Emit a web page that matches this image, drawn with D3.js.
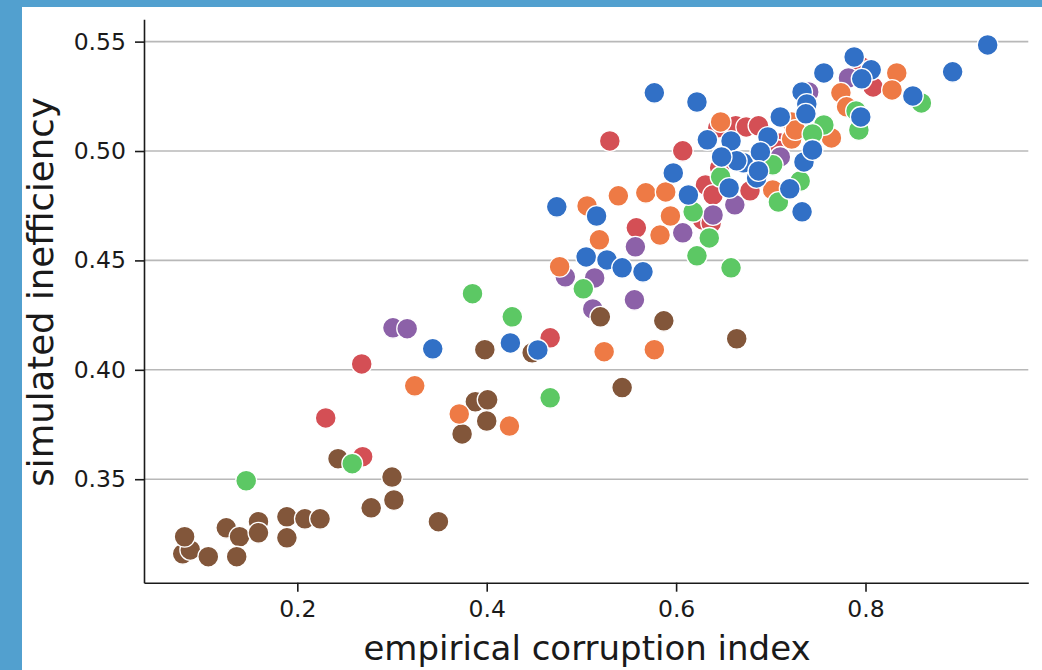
<!DOCTYPE html>
<html>
<head>
<meta charset="utf-8">
<script src="https://cdn.jsdelivr.net/npm/d3@7"></script>
<style>
  html, body { margin: 0; padding: 0; background: #52a0cf; }
  svg { display: block; }
  text { font-family: "DejaVu Sans", sans-serif; fill: #1a1a1a; }
</style>
</head>
<body>
<svg id="chart" width="1042" height="670"></svg>
<script>
// ---- data ----
const xTicks = [0.2, 0.4, 0.6, 0.8];
const yTicks = [0.35, 0.40, 0.45, 0.50, 0.55];
const xLabel = "empirical corruption index";
const yLabel = "simulated inefficiency";

const redX = [0.530,0.607,0.644,0.663,0.674,0.687,0.710,0.707,0.631,0.639,0.628,0.637,0.558,0.678,0.796,0.808,0.467,0.268,0.230,0.269,0.646];
const redY = [0.5046,0.5001,0.5106,0.5115,0.5110,0.5115,0.5037,0.5005,0.4845,0.4799,0.4685,0.4671,0.4649,0.4818,0.5384,0.5293,0.4146,0.4027,0.3780,0.3603,0.4923];

const purpleX = [0.782,0.740,0.710,0.662,0.639,0.607,0.557,0.483,0.514,0.556,0.512,0.301,0.316];
const purpleY = [0.5334,0.5270,0.4973,0.4754,0.4708,0.4626,0.4562,0.4425,0.4420,0.4320,0.4278,0.4192,0.4188];

const brownX = [0.079,0.087,0.081,0.106,0.125,0.139,0.136,0.159,0.159,0.189,0.189,0.208,0.224,0.243,0.278,0.300,0.302,0.349,0.374,0.388,0.401,0.400,0.398,0.448,0.520,0.587,0.664,0.543];
const brownY = [0.3159,0.3177,0.3237,0.3146,0.3278,0.3237,0.3146,0.3306,0.3255,0.3328,0.3232,0.3319,0.3319,0.3594,0.3369,0.3510,0.3405,0.3306,0.3707,0.3854,0.3863,0.3766,0.4092,0.4078,0.4242,0.4224,0.4142,0.3919];

const orangeX = [0.833,0.828,0.774,0.780,0.764,0.722,0.722,0.702,0.506,0.539,0.568,0.589,0.594,0.583,0.519,0.477,0.524,0.577,0.324,0.371,0.424,0.647,0.726];
const orangeY = [0.5357,0.5279,0.5266,0.5202,0.5060,0.5133,0.5055,0.4822,0.4749,0.4795,0.4809,0.4813,0.4703,0.4616,0.4594,0.4471,0.4083,0.4092,0.3927,0.3798,0.3743,0.5133,0.5096];

const greenX = [0.859,0.790,0.793,0.756,0.744,0.731,0.708,0.702,0.647,0.618,0.635,0.622,0.658,0.502,0.385,0.427,0.467,0.258,0.146];
const greenY = [0.5220,0.5183,0.5096,0.5119,0.5078,0.4863,0.4767,0.4937,0.4882,0.4722,0.4603,0.4521,0.4466,0.4370,0.4348,0.4242,0.3872,0.3571,0.3493];

const blueX = [0.929,0.892,0.850,0.788,0.806,0.796,0.756,0.733,0.738,0.737,0.710,0.795,0.697,0.658,0.633,0.671,0.685,0.689,0.735,0.720,0.733,0.656,0.664,0.648,0.597,0.613,0.577,0.622,0.474,0.516,0.505,0.527,0.543,0.565,0.343,0.425,0.454,0.744,0.687];
const blueY = [0.5485,0.5362,0.5252,0.5430,0.5371,0.5330,0.5357,0.5270,0.5215,0.5170,0.5156,0.5156,0.5064,0.5046,0.5051,0.4946,0.4877,0.4996,0.4950,0.4827,0.4722,0.4831,0.4955,0.4973,0.4900,0.4799,0.5266,0.5224,0.4745,0.4703,0.4516,0.4502,0.4466,0.4448,0.4096,0.4123,0.4091,0.5005,0.4909];

const seriesNames = ["red","purple","brown","orange","green","blue"];
const seriesColors = ["#d44f55","#8c61a8","#82563a","#ee7a45","#5cc864","#3170c6"];
const seriesXs = [redX, purpleX, brownX, orangeX, greenX, blueX];
const seriesYs = [redY, purpleY, brownY, orangeY, greenY, blueY];

// ---- layout ----
const svg = d3.select("#chart");
svg.append("rect").attr("x", 22).attr("y", 7).attr("width", 1042 - 22).attr("height", 670 - 7).attr("fill", "#ffffff");

const x = d3.scaleLinear().domain([0.0381, 0.9719]).range([144, 1028.3]);
const y = d3.scaleLinear().domain([0.3027, 0.5602]).range([582.7, 19.3]);

// grid
svg.append("g").selectAll("line").data(yTicks).join("line")
  .attr("x1", x.range()[0]).attr("x2", x.range()[1])
  .attr("y1", d => y(d)).attr("y2", d => y(d))
  .attr("stroke", "#b8b8b8").attr("stroke-width", 1.6);

// points
seriesNames.forEach((name, i) => {
  const pts = seriesXs[i].map((v, j) => [v, seriesYs[i][j]]);
  svg.append("g").attr("class", name).selectAll("circle").data(pts).join("circle")
    .attr("cx", d => x(d[0])).attr("cy", d => y(d[1])).attr("r", 10.4)
    .attr("fill", seriesColors[i]).attr("stroke", "#ffffff").attr("stroke-width", 1.3);
});

// axes
const xAxis = svg.append("g").attr("transform", "translate(0,582.7)")
  .call(d3.axisBottom(x).tickValues(xTicks).tickFormat(d3.format(".1f")).tickSize(9).tickSizeOuter(0).tickPadding(9));
const yAxis = svg.append("g").attr("transform", "translate(144,0)")
  .call(d3.axisLeft(y).tickValues(yTicks).tickFormat(d3.format(".2f")).tickSize(9).tickSizeOuter(0).tickPadding(9));
[xAxis, yAxis].forEach(g => {
  g.select(".domain").attr("stroke", "#1a1a1a").attr("stroke-width", 1.6);
  g.selectAll(".tick line").attr("stroke", "#1a1a1a").attr("stroke-width", 1.6);
  g.selectAll(".tick text").attr("font-family", "DejaVu Sans").attr("font-size", 23.5).attr("fill", "#1a1a1a");
});

svg.append("text").attr("x", 587).attr("y", 660).attr("text-anchor", "middle")
  .attr("font-size", 34).text(xLabel);
svg.append("text").attr("transform", "translate(53,292) rotate(-90)").attr("text-anchor", "middle")
  .attr("font-size", 35.5).text(yLabel);
</script>
</body>
</html>
